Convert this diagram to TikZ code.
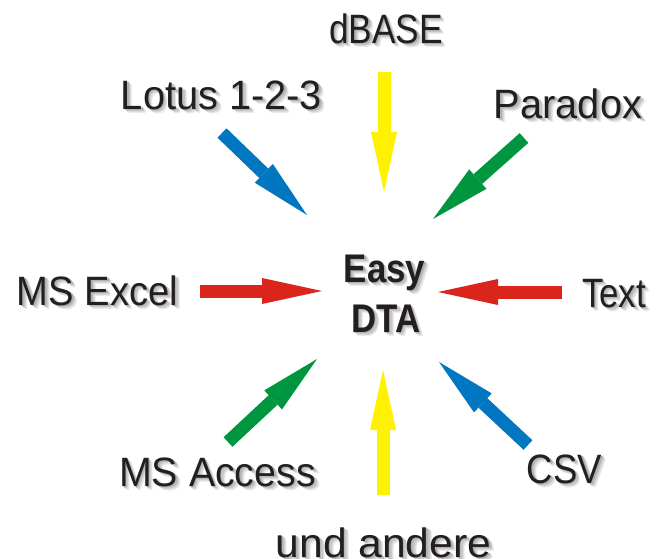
\documentclass[tikz,border=0pt]{standalone}
\usepackage{fontspec}
\setmainfont{Liberation Sans}
\usetikzlibrary{arrows.meta}
\definecolor{ayellow}{RGB}{255,242,0}
\definecolor{ablue}{RGB}{0,119,192}
\definecolor{agreen}{RGB}{0,150,64}
\definecolor{ared}{RGB}{218,37,29}
\definecolor{txt}{RGB}{35,31,32}
\newcommand\shtxt[1]{%
 \makebox[0pt][l]{\hspace{5pt}\raisebox{-4pt}{\color{black!8}#1}}%
 \makebox[0pt][l]{\hspace{4pt}\raisebox{-3pt}{\color{black!14}#1}}%
 \makebox[0pt][l]{\hspace{3pt}\raisebox{-2pt}{\color{black!22}#1}}%
 \makebox[0pt][l]{\hspace{1.5pt}\raisebox{-1pt}{\color{black!30}#1}}%
 {\color{txt}#1}}
\tikzset{
  lbl/.style={inner sep=0pt, anchor=base, font=\fontsize{41}{41}\selectfont, transform shape},
  ctr/.style={inner sep=0pt, anchor=base, font=\fontsize{40}{40}\selectfont\bfseries, transform shape},
  fat/.style={line width=13pt, draw=#1, -{Triangle[width=26pt,length=60pt,line width=0pt,fill=#1]}},
}
\begin{document}
\begin{tikzpicture}[x=1pt,y=-1pt]
\useasboundingbox (0,0) rectangle (664,559);
% labels
\node[lbl, xscale=0.86] (dbase) at (386,44) {\shtxt{dBASE}};
\node[lbl, xscale=0.97] (lotus) at (221.5,110) {\shtxt{Lotus 1-2-3}};
\node[lbl, xscale=0.97] (paradox) at (568,119) {\shtxt{Paradox}};
\node[lbl, xscale=0.93] (excel) at (97.5,305) {\shtxt{MS Excel}};
\node[lbl, xscale=0.85] (text) at (614,307) {\shtxt{Text}};
\node[lbl, xscale=0.96] (access) at (217.5,486) {\shtxt{MS Access}};
\node[lbl, xscale=0.89] (csv) at (564.5,483) {\shtxt{CSV}};
\node[lbl, xscale=1.04] (und) at (383.5,557) {\shtxt{und andere}};
\node[ctr, xscale=0.87] (easy) at (384.5,282) {\shtxt{Easy}};
\node[ctr, xscale=0.87] (dta) at (386,332) {\shtxt{DTA}};
% arrow endpoints
\coordinate (t1) at (384,72);  \coordinate (h1) at (384,192);
\coordinate (t2) at (222,133); \coordinate (h2) at (307,215);
\coordinate (t3) at (524,138); \coordinate (h3) at (433,219);
\coordinate (t4) at (200,291); \coordinate (h4) at (322,291);
\coordinate (t5) at (562,292); \coordinate (h5) at (438,292);
\coordinate (t6) at (228,442); \coordinate (h6) at (317,359);
\coordinate (t7) at (528,445); \coordinate (h7) at (439,362);
\coordinate (t8) at (383,495); \coordinate (h8) at (383,370);
\draw[fat=ayellow] (t1) -- (h1);
\draw[fat=ablue] (t2) -- (h2);
\draw[fat=agreen] (t3) -- (h3);
\draw[fat=ared] (t4) -- (h4);
\draw[fat=ared] (t5) -- (h5);
\draw[fat=agreen] (t6) -- (h6);
\draw[fat=ablue] (t7) -- (h7);
\draw[fat=ayellow] (t8) -- (h8);
\end{tikzpicture}
\end{document}
